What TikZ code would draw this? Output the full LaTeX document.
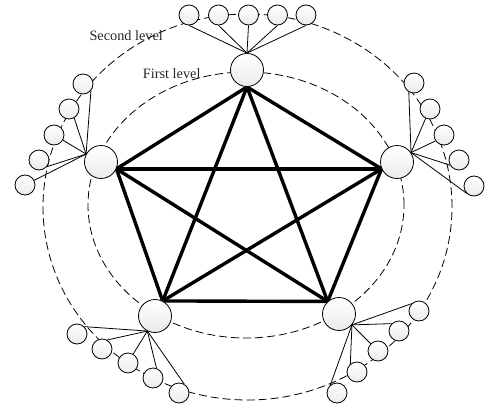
\documentclass[tikz,border=0pt]{standalone}
\usepackage{fontspec}
\setmainfont{Liberation Serif}
\usetikzlibrary{backgrounds}
\begin{document}
\begin{tikzpicture}[x=1pt,y=-1pt,
  big/.style={circle, draw, line width=0.8pt, minimum size=33pt, inner sep=0pt, top color=white, bottom color=black!8},
  small/.style={circle, draw, line width=0.8pt, minimum size=20pt, inner sep=0pt, top color=white, bottom color=black!8},
  ring/.style={dash pattern=on 8pt off 4pt, line width=0.8pt},
  edge/.style={line width=3.4pt},
  fan/.style={line width=0.8pt},
  lbl/.style={font=\fontsize{14.3}{17}\selectfont, inner sep=0pt, anchor=base west, text=black!85}]
\useasboundingbox (0,0) rectangle (488,410);
% first level nodes
\node[big] (T) at (247,70) {};
\node[big] (L) at (101,162) {};
\node[big] (R) at (397,162) {};
\node[big] (BL) at (155,316) {};
\node[big] (BR) at (339,314) {};
% second level: top
\node[small] (t1) at (189,15) {};
\node[small] (t2) at (218.5,15) {};
\node[small] (t3) at (248.5,15) {};
\node[small] (t4) at (277.5,15) {};
\node[small] (t5) at (306,15) {};
% left
\node[small] (l1) at (83,84) {};
\node[small] (l2) at (69,109) {};
\node[small] (l3) at (54,135) {};
\node[small] (l4) at (39,160) {};
\node[small] (l5) at (25,185) {};
% right
\node[small] (r1) at (414,83) {};
\node[small] (r2) at (430,109) {};
\node[small] (r3) at (444,135) {};
\node[small] (r4) at (459,160) {};
\node[small] (r5) at (474,186) {};
% bottom left
\node[small] (b1) at (77,334) {};
\node[small] (b2) at (102,349) {};
\node[small] (b3) at (128,363) {};
\node[small] (b4) at (153,378) {};
\node[small] (b5) at (179,393) {};
% bottom right
\node[small] (c1) at (419,311) {};
\node[small] (c2) at (399,331) {};
\node[small] (c3) at (378,351) {};
\node[small] (c4) at (357,372) {};
\node[small] (c5) at (337,393) {};
% labels
\node[lbl] (sec) at (89.3,40.7) {Second level};
\node[lbl] (fst) at (142.7,78.3) {First level};
\begin{scope}[on background layer]
  \draw[ring] (246,205) ellipse [x radius=158pt, y radius=133pt];
  \draw[ring] (247.5,207) ellipse [x radius=204.5pt, y radius=193pt];
  \coordinate (pT) at (T.south);
  \coordinate (pL) at (L.-24);
  \coordinate (pR) at (R.204);
  \coordinate (pBL) at (BL.63);
  \coordinate (pBR) at (BR.132);
  \draw[edge] (pT) -- (pL);
  \draw[edge] (pT) -- (pR);
  \draw[edge] (pT) -- (pBL);
  \draw[edge] (pT) -- (pBR);
  \draw[edge] (pL) -- (pR);
  \draw[edge] (pL) -- (pBL);
  \draw[edge] (pL) -- (pBR);
  \draw[edge] (pR) -- (pBL);
  \draw[edge] (pR) -- (pBR);
  \draw[edge] (pBL) -- (pBR);
  % fans
  \draw[fan] (T.north) -- (t1.south);
  \draw[fan] (T.north) -- (t2.south);
  \draw[fan] (T.north) -- (t3.south);
  \draw[fan] (T.north) -- (t4.south);
  \draw[fan] (T.north) -- (t5.south);
  \draw[fan] (L.152) -- (l1.-40);
  \draw[fan] (L.152) -- (l2.-60);
  \draw[fan] (L.152) -- (l3.-30);
  \draw[fan] (L.152) -- (l4.-40);
  \draw[fan] (L.152) -- (l5);
  \draw[fan] (R.34) -- (r1.-120);
  \draw[fan] (R.34) -- (r2.-115);
  \draw[fan] (R.34) -- (r3.-145);
  \draw[fan] (R.34) -- (r4.210);
  \draw[fan] (R.34) -- (r5.south west);
  \draw[fan] (BL.243) -- (b1.north east);
  \draw[fan] (BL.243) -- (b2.60);
  \draw[fan] (BL.243) -- (b3.60);
  \draw[fan] (BL.243) -- (b4.70);
  \draw[fan] (BL.243) -- (b5.60);
  \draw[fan] (BR.-40) -- (c1.north west);
  \draw[fan] (BR.-40) -- (c2.north west);
  \draw[fan] (BR.-40) -- (c3.135);
  \draw[fan] (BR.-40) -- (c4.130);
  \draw[fan] (BR.-40) -- (c5.130);
\end{scope}
\end{tikzpicture}
\end{document}
